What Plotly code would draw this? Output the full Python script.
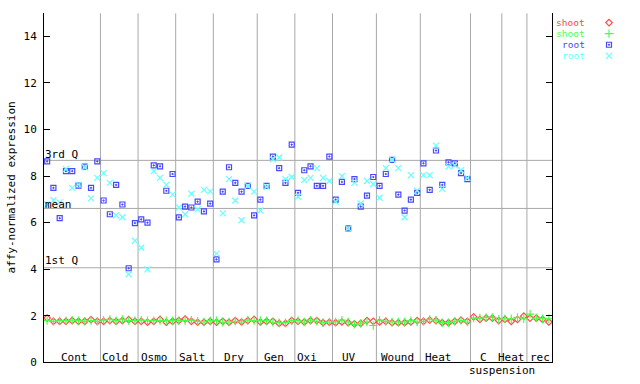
import plotly.graph_objects as go

# ---------------- data ----------------
groups = ["Cont", "Cold", "Osmo", "Salt", "Dry", "Gen", "Oxi", "UV",
          "Wound", "Heat", "C", "Heat", "rec"]
group_sizes = [9, 6, 6, 6, 7, 6, 6, 7, 7, 8, 5, 4, 4]

shoot_red = [1.90, 1.76, 1.76, 1.76, 1.79, 1.76, 1.76, 1.83, 1.76,
             1.76, 1.79, 1.76, 1.79, 1.83, 1.76,
             1.76, 1.72, 1.76, 1.84, 1.72, 1.76,
             1.79, 1.86, 1.76, 1.72, 1.72, 1.76,
             1.72, 1.76, 1.72, 1.79, 1.73, 1.79, 1.84,
             1.73, 1.76, 1.76, 1.67, 1.67, 1.79,
             1.76, 1.73, 1.79, 1.79, 1.70, 1.72,
             1.70, 1.73, 1.70, 1.65, 1.67, 1.79, 1.76,
             1.73, 1.76, 1.70, 1.70, 1.70, 1.73, 1.79,
             1.76, 1.81, 1.79, 1.70, 1.70, 1.76, 1.81, 1.76,
             1.95, 1.84, 1.90, 1.90, 1.79,
             1.84, 1.76, 1.84, 1.98,
             1.90, 1.90, 1.84, 1.73]

shoot_green = [1.79, 1.76, 1.79, 1.79, 1.81, 1.79, 1.76, 1.79, 1.76,
               1.81, 1.84, 1.79, 1.84, 1.79, 1.79,
               1.81, 1.79, 1.79, 1.79, 1.79, 1.79,
               1.79, 1.79, 1.81, 1.76, 1.73, 1.79,
               1.79, 1.72, 1.73, 1.76, 1.73, 1.81, 1.79,
               1.79, 1.79, 1.72, 1.70, 1.70, 1.79,
               1.79, 1.73, 1.81, 1.76, 1.70, 1.73,
               1.73, 1.81, 1.73, 1.63, 1.67, 1.73, 1.58,
               1.81, 1.76, 1.73, 1.73, 1.73, 1.79, 1.73,
               1.76, 1.84, 1.81, 1.70, 1.70, 1.76, 1.79, 1.73,
               1.90, 1.90, 1.93, 1.93, 1.84,
               1.87, 1.87, 1.93, 1.87,
               2.07, 1.90, 1.87, 1.87]

root_blue = [8.63, 7.49, 6.19, 8.21, 8.21, 7.59, 8.41, 7.49, 8.63,
             6.95, 6.36, 7.62, 6.78, 4.04, 5.98,
             6.14, 6.00, 8.46, 8.42, 7.37, 8.09,
             6.23, 6.69, 6.65, 6.90, 6.48, 6.82,
             4.42, 7.33, 8.38, 7.71, 7.33, 7.58, 6.31,
             6.99, 7.58, 8.84, 8.34, 7.71, 9.35,
             7.28, 8.25, 8.42, 7.58, 7.58, 8.84,
             6.99, 7.75, 5.75, 7.87, 6.69, 7.16, 7.96,
             7.58, 8.09, 8.70, 7.20, 6.52, 6.99, 7.28,
             8.55, 7.41, 9.10, 7.62, 8.59, 8.55, 8.13, 7.87]

root_cyan = [6.78, 6.96, 6.87, 8.30, 7.49, 7.63, 8.38, 7.04, 7.92,
             8.13, 7.71, 6.31, 6.23, 3.78, 5.22,
             4.92, 3.99, 8.21, 7.92, 7.62, 7.20,
             6.65, 6.36, 7.24, 6.57, 7.41, 7.34,
             4.67, 6.40, 7.87, 6.95, 6.10, 7.58, 7.33,
             6.52, 7.54, 8.72, 8.80, 7.87, 7.96,
             7.11, 7.83, 7.92, 8.34, 7.92, 7.79,
             6.90, 8.00, 5.75, 7.71, 6.82, 7.79, 7.66,
             7.07, 8.34, 8.70, 8.34, 6.23, 8.04, 7.37,
             8.04, 8.04, 9.31, 7.45, 8.42, 8.46, 8.25, 7.92]

ref_labels = ["3rd Q", "mean", "1st Q"]
ref_values = [8.675, 6.61, 4.06]

y_ticks = [0, 2, 4, 6, 8, 10, 12, 14]

legend_labels = ["shoot", "shoot", "root", "root"]

# ---------------- style ----------------
W, H = 640, 384
FONT = "DejaVu Sans Mono"
RED, GREEN, BLUE, CYAN = "#ff4848", "#48ff48", "#4848ff", "#66ffff"
GRID = "#a8a8a8"

n_samples = sum(group_sizes)
bounds = [0]
for s in group_sizes:
    bounds.append(bounds[-1] + s)

def xs(n):
    return [i + 0.5 for i in range(n)]

fig = go.Figure()

fig.add_trace(go.Scatter(x=xs(len(shoot_red)), y=shoot_red, mode="markers",
                         marker=dict(symbol="diamond-open", size=5, color=RED,
                                     line=dict(width=1.2, color=RED)),
                         showlegend=False))
fig.add_trace(go.Scatter(x=xs(len(shoot_green)), y=shoot_green, mode="markers",
                         marker=dict(symbol="cross-thin-open", size=6, color=GREEN,
                                     line=dict(width=1.2, color=GREEN)),
                         showlegend=False))
fig.add_trace(go.Scatter(x=xs(len(root_blue)), y=root_blue, mode="markers",
                         marker=dict(symbol="square-open-dot", size=5, color=BLUE,
                                     line=dict(width=1.2, color=BLUE)),
                         showlegend=False))
fig.add_trace(go.Scatter(x=xs(len(root_cyan)), y=root_cyan, mode="markers",
                         marker=dict(symbol="x-thin-open", size=6, color=CYAN,
                                     line=dict(width=1.2, color=CYAN)),
                         showlegend=False))

# custom legend (text then marker) on a pixel-space overlay axis
leg_rows = [23.0, 34.3, 45.6, 56.9]
leg_syms = ["diamond-open", "cross-thin-open", "square-open-dot", "x-thin-open"]
leg_cols = [RED, GREEN, BLUE, CYAN]
leg_sizes = [5, 6, 5, 6]
for lab, yy, sym, col, sz in zip(legend_labels, leg_rows, leg_syms, leg_cols, leg_sizes):
    fig.add_trace(go.Scatter(x=[609], y=[yy], xaxis="x2", yaxis="y2", mode="markers",
                             marker=dict(symbol=sym, size=sz, color=col,
                                         line=dict(width=1.2, color=col)),
                             showlegend=False, hoverinfo="skip"))
    fig.add_annotation(x=586 / W, y=1 - yy / H, xref="paper", yref="paper",
                       text=lab, showarrow=False, xanchor="right", yanchor="middle",
                       borderpad=0,
                       font=dict(family=FONT, size=9.5, color=col))

# group separators
for b in bounds[1:-1]:
    fig.add_shape(type="line", x0=b, x1=b, y0=0, y1=15, xref="x", yref="y",
                  line=dict(color=GRID, width=1), layer="below")

# reference lines
ref_shift = [-3, -5, -1]
for lab, v, sh in zip(ref_labels, ref_values, ref_shift):
    fig.add_shape(type="line", x0=0, x1=n_samples, y0=v, y1=v, xref="x", yref="y",
                  line=dict(color=GRID, width=1), layer="below")
    fig.add_annotation(x=0, y=v, xref="x", yref="y", text=lab, showarrow=False,
                       xanchor="left", yanchor="bottom", yshift=sh, xshift=-1,
                       font=dict(family=FONT, size=11, color="black"))

# group labels
label_shift = [2, -4, -2.6, -1.7, -1.6, -2.2, -6.5, -5.2, -1.1, -6.6, -2.3, -2.7, 0.5]
for i, (g, sh) in enumerate(zip(groups, label_shift)):
    cx = (bounds[i] + bounds[i + 1]) / 2
    fig.add_annotation(x=cx, y=1 - 364 / H, xref="x", yref="paper", text=g,
                       showarrow=False, xanchor="center", yanchor="middle", xshift=sh,
                       font=dict(family=FONT, size=11, color="black"))
fig.add_annotation(x=bounds[11], y=1 - 377.5 / H, xref="x", yref="paper",
                   text="suspension", showarrow=False, xanchor="center", yanchor="middle",
                   font=dict(family=FONT, size=11, color="black"))

# y-axis title
fig.add_annotation(x=12 / W, y=1 - 191 / H, xref="paper", yref="paper",
                   text="affy-normalized expression", textangle=-90, showarrow=False,
                   xanchor="center", yanchor="middle",
                   font=dict(family=FONT, size=11, color="black"))

fig.update_layout(
    width=W, height=H,
    margin=dict(l=0, r=0, t=0, b=0),
    paper_bgcolor="white", plot_bgcolor="rgba(0,0,0,0)",
    showlegend=False,
    xaxis=dict(domain=[44 / W, 552 / W], range=[0, n_samples], showgrid=False,
               zeroline=False, showticklabels=False, ticks="", showline=True,
               linecolor="black", linewidth=1, fixedrange=True),
    yaxis=dict(domain=[15 / H, 1 - 13.4 / H], range=[0, 15], tickvals=y_ticks,
               ticks="inside", ticklen=6, tickcolor="black", tickwidth=1,
               showline=True, linecolor="black", linewidth=1, mirror="ticks",
               showgrid=False, zeroline=False, ticklabelstandoff=4,
               tickfont=dict(family=FONT, size=11, color="black"), fixedrange=True),
    xaxis2=dict(domain=[0, 1], range=[0, W], visible=False, anchor="y2", fixedrange=True),
    yaxis2=dict(domain=[0, 1], range=[H, 0], visible=False, anchor="x2", fixedrange=True),
)

fig.write_html("out.html", config={"displayModeBar": False},
               post_script="document.body.style.margin='0px';")
